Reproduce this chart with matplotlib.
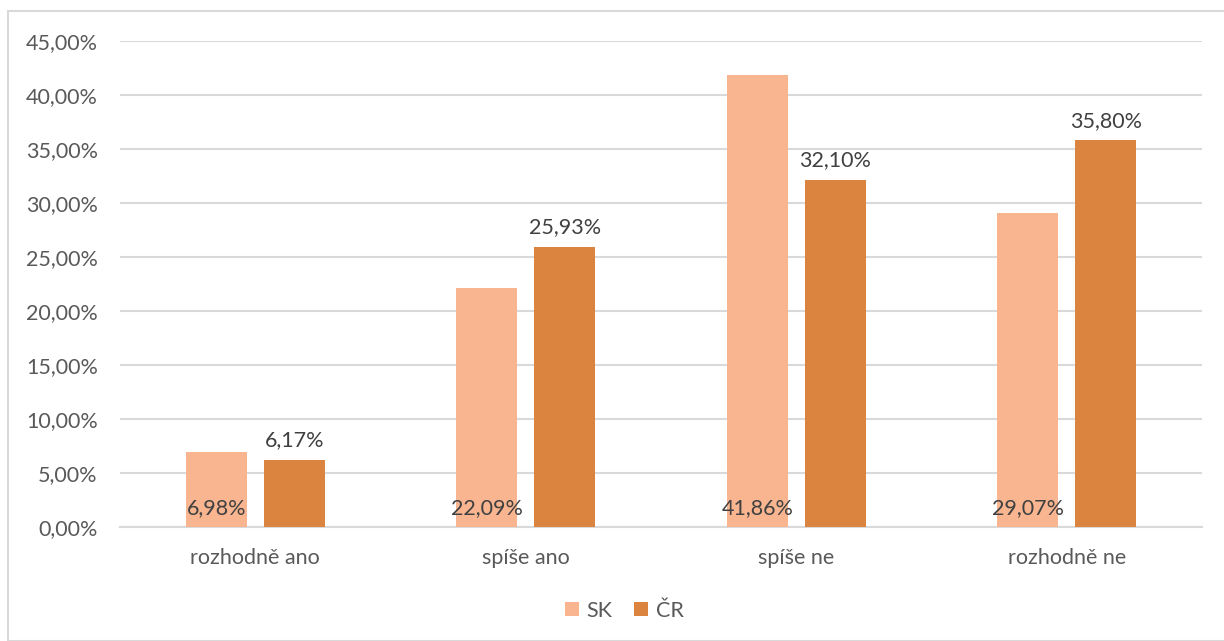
import numpy as np
import matplotlib.pyplot as plt
from matplotlib.patches import Rectangle
from matplotlib.ticker import FuncFormatter

plt.rcParams['font.family'] = ['Lato', 'DejaVu Sans']

categories = ["rozhodně ano", "spíše ano", "spíše ne", "rozhodně ne"]
sk = [6.98, 22.09, 41.86, 29.07]
cr = [6.17, 25.93, 32.10, 35.80]
yticks = np.arange(0, 46, 5)

def pct(v):
    return f"{v:.2f}".replace(".", ",") + "%"

fs = 15.5
fig = plt.figure(figsize=(12.24, 6.41), dpi=100)
ax = fig.add_axes([0.098, 0.178, 0.884, 0.758])

# outer frame of the chart area
fig.patches.append(Rectangle((8 / 1224, 0), 1.0, 1 - 11 / 641, transform=fig.transFigure,
                             fill=False, edgecolor="#d9d9d9", linewidth=1.5))

x = np.arange(len(categories))
w = 0.225
gap = 0.063
c_sk = "#F8B58F"
c_cr = "#DB843F"

b1 = ax.bar(x - (w + gap) / 2, sk, w, color=c_sk, label="SK", zorder=3)
b2 = ax.bar(x + (w + gap) / 2, cr, w, color=c_cr, label="ČR", zorder=3)

for rect, v in zip(b1, sk):
    ax.text(rect.get_x() + rect.get_width() / 2, 1.75, pct(v), ha="center", va="center",
            fontsize=fs, color="#404040", zorder=4)
for rect, v in zip(b2, cr):
    ax.annotate(pct(v), (rect.get_x() + rect.get_width() / 2, v), xytext=(0, 7),
                textcoords="offset points", ha="center", va="bottom",
                fontsize=fs, color="#404040")

ax.set_xlim(-0.5, len(categories) - 0.5)
ax.set_ylim(0, 45)
ax.set_yticks(yticks)
ax.yaxis.set_major_formatter(FuncFormatter(lambda v, p: pct(v)))
ax.set_xticks(x)
ax.set_xticklabels(categories)
ax.tick_params(axis="both", length=0, labelsize=fs, labelcolor="#595959")
ax.tick_params(axis="x", pad=15)
ax.tick_params(axis="y", pad=16)
ax.grid(axis="y", color="#d9d9d9", linewidth=1.5, zorder=0)
for s in ["top", "right", "left"]:
    ax.spines[s].set_visible(False)
ax.spines["bottom"].set_color("#d9d9d9")
ax.spines["bottom"].set_linewidth(1.5)

fig.legend(loc="center", bbox_to_anchor=(0.51, 0.047), ncol=2, frameon=False,
           fontsize=fs, labelcolor="#595959", handlelength=0.65, handleheight=0.65,
           handletextpad=0.35, columnspacing=1.0)

fig.savefig("out.png", dpi=100)
